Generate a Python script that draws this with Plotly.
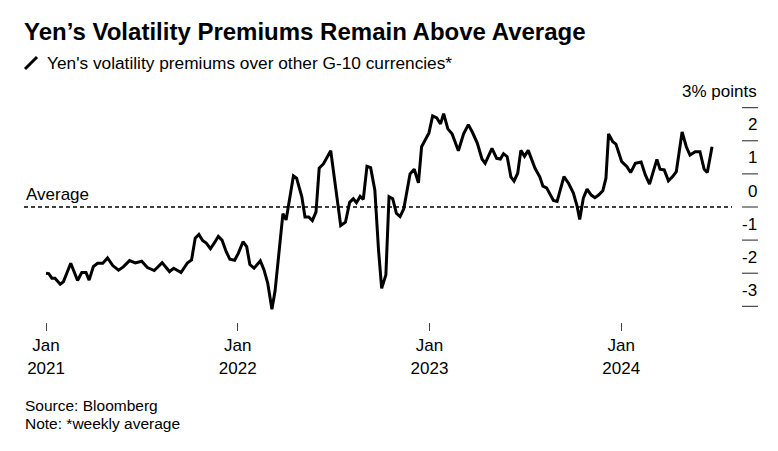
import plotly.graph_objects as go

# ---------------- data ----------------
dates = [
    "2021-01-01", "2021-01-06", "2021-01-12", "2021-01-18", "2021-01-28", "2021-02-03", "2021-02-17",
    "2021-03-02", "2021-03-10", "2021-03-18", "2021-03-24", "2021-04-01", "2021-04-09", "2021-04-19",
    "2021-04-28", "2021-05-08", "2021-05-19", "2021-05-28", "2021-06-09", "2021-06-20", "2021-07-02",
    "2021-07-13", "2021-07-26", "2021-08-10", "2021-08-24", "2021-09-01", "2021-09-15", "2021-09-27",
    "2021-10-05", "2021-10-12", "2021-10-19", "2021-10-26", "2021-11-02", "2021-11-10", "2021-11-18",
    "2021-11-25", "2021-12-02", "2021-12-10", "2021-12-17", "2021-12-26", "2022-01-02", "2022-01-11",
    "2022-01-18", "2022-01-24", "2022-02-01", "2022-02-13", "2022-02-20", "2022-02-27", "2022-03-07",
    "2022-03-13", "2022-03-28", "2022-04-03", "2022-04-17", "2022-04-23", "2022-05-03", "2022-05-09",
    "2022-05-16", "2022-05-23", "2022-05-30", "2022-06-05", "2022-06-13", "2022-06-27", "2022-07-07",
    "2022-07-16", "2022-07-25", "2022-08-02", "2022-08-09", "2022-08-15", "2022-08-22", "2022-08-28",
    "2022-09-04", "2022-09-11", "2022-09-19", "2022-09-26", "2022-10-02", "2022-10-10", "2022-10-16",
    "2022-10-23", "2022-10-30", "2022-11-06", "2022-11-13", "2022-11-25", "2022-12-03", "2022-12-11",
    "2022-12-17", "2022-12-24", "2022-12-31", "2023-01-07", "2023-01-15", "2023-01-22", "2023-01-28",
    "2023-02-05", "2023-02-13", "2023-02-25", "2023-03-07", "2023-03-16", "2023-03-24", "2023-04-02",
    "2023-04-11", "2023-04-17", "2023-04-30", "2023-05-09", "2023-05-16", "2023-05-22", "2023-05-29",
    "2023-06-05", "2023-06-11", "2023-06-18", "2023-06-24", "2023-07-01", "2023-07-08", "2023-07-21",
    "2023-07-30", "2023-08-05", "2023-08-12", "2023-08-25", "2023-09-01", "2023-09-14", "2023-09-23",
    "2023-10-02", "2023-10-09", "2023-10-14", "2023-10-21", "2023-10-28", "2023-11-05", "2023-11-12",
    "2023-11-19", "2023-11-27", "2023-12-03", "2023-12-08", "2023-12-16", "2023-12-22", "2024-01-02",
    "2024-01-12", "2024-01-19", "2024-01-28", "2024-02-08", "2024-02-16", "2024-02-24", "2024-03-09",
    "2024-03-15", "2024-03-23", "2024-03-31", "2024-04-08", "2024-04-15", "2024-04-26", "2024-05-04",
    "2024-05-11", "2024-05-21", "2024-05-30", "2024-06-07", "2024-06-13", "2024-06-22",
]
premium = [
    -2.00, -2.01, -2.15, -2.15, -2.33, -2.26, -1.70,
    -2.22, -1.98, -1.98, -2.21, -1.80, -1.70, -1.70,
    -1.54, -1.77, -1.91, -1.81, -1.62, -1.69, -1.64,
    -1.83, -1.92, -1.68, -1.95, -1.85, -1.98, -1.69,
    -1.60, -0.94, -0.83, -1.01, -1.09, -1.26, -1.07,
    -0.89, -1.00, -1.35, -1.58, -1.61, -1.40, -1.05,
    -1.20, -1.74, -1.85, -1.63, -1.90, -2.30, -3.09,
    -2.54, -0.20, -0.39, 0.94, 0.87, 0.31, -0.30,
    -0.30, -0.41, -0.15, 1.17, 1.30, 1.70, 0.51,
    -0.56, -0.46, 0.14, 0.25, 0.13, 0.32, 0.23,
    1.23, 1.19, 0.51, -1.30, -2.46, -2.05, 0.31,
    0.25, -0.19, -0.29, -0.06, 1.00, 1.14, 0.73,
    1.82, 2.02, 2.24, 2.75, 2.69, 2.51, 2.82,
    2.36, 2.21, 1.70, 2.21, 2.49, 2.25, 1.93,
    1.45, 1.32, 1.77, 1.47, 1.45, 1.61, 1.52,
    0.91, 0.78, 1.02, 1.71, 1.53, 1.71, 1.17,
    0.91, 0.63, 0.58, 0.20, 0.17, 0.92, 0.71,
    0.42, 0.03, -0.38, 0.27, 0.54, 0.36, 0.28,
    0.36, 0.49, 0.87, 2.21, 1.97, 1.90, 1.37,
    1.22, 1.04, 1.32, 1.36, 0.97, 0.69, 1.44,
    1.14, 1.12, 0.79, 0.92, 1.07, 2.27, 1.82,
    1.57, 1.67, 1.67, 1.14, 1.04, 1.82,
]
average_level = 0.0
y_tick_values = [-3, -2, -1, 0, 1, 2, 3]
y_tick_labels = ["-3", "-2", "-1", "0", "1", "2", "3% points"]
x_tick_values = ["2021-01-01", "2022-01-01", "2023-01-01", "2024-01-01"]
x_tick_labels = ["Jan<br>2021", "Jan<br>2022", "Jan<br>2023", "Jan<br>2024"]

title_text = "Yen’s Volatility Premiums Remain Above Average"
subtitle_text = "Yen's volatility premiums over other G-10 currencies*"
footer_lines = ["Source: Bloomberg", "Note: *weekly average"]

# ---------------- layout geometry (window pixel coordinates) ----------------
OFF = 8                      # the page body adds an 8px margin around the figure
WIN_W, WIN_H = 778, 451
WIDTH, HEIGHT = WIN_W - OFF, WIN_H - OFF
L, R, T, B = 24, 732, 100, 322
PW, PH = R - L, B - T
FONT = "Liberation Sans, Arial, Helvetica, sans-serif"


def px(x):
    return (x - L) / PW


def py(y):
    return (B - y) / PH


fig = go.Figure()
fig.add_trace(go.Scatter(
    x=dates, y=premium, mode="lines",
    line=dict(color="#000000", width=3),
    hoverinfo="skip", showlegend=False,
))

shapes = []
annotations = []

# average dashed line
shapes.append(dict(type="line", xref="paper", yref="y", x0=0, x1=1,
                   y0=average_level, y1=average_level,
                   line=dict(color="#000000", width=1.5, dash="4px,3px"), layer="below"))
annotations.append(dict(text="Average", xref="paper", yref="y", x=0, y=average_level,
                        xanchor="left", yanchor="bottom", yshift=1, showarrow=False,
                        font=dict(size=17, color="#000000", family=FONT)))

# right-hand value axis: tick marks and labels above them
for v, lab in zip(y_tick_values, y_tick_labels):
    shapes.append(dict(type="line", xref="paper", yref="y", x0=px(742), x1=px(758),
                       y0=v, y1=v, line=dict(color="#222222", width=1)))
    annotations.append(dict(text=lab, xref="paper", yref="y", x=px(759), y=v,
                            xanchor="right", yanchor="middle", yshift=16, showarrow=False,
                            font=dict(size=17, color="#000000", family=FONT)))

# title, subtitle with legend icon, footer
annotations.append(dict(text="<b>" + title_text + "</b>", xref="paper", yref="paper",
                        x=px(22), y=py(31), xanchor="left", yanchor="middle", showarrow=False,
                        font=dict(size=24, color="#000000", family=FONT)))
shapes.append(dict(type="line", xref="paper", yref="paper", x0=px(25), y0=py(69),
                   x1=px(37), y1=py(57), line=dict(color="#000000", width=3)))
annotations.append(dict(text=subtitle_text, xref="paper", yref="paper",
                        x=px(45), y=py(63), xanchor="left", yanchor="middle", showarrow=False,
                        font=dict(size=17.3, color="#000000", family=FONT)))
for i, line in enumerate(footer_lines):
    annotations.append(dict(text=line, xref="paper", yref="paper",
                            x=px(23), y=py(405 + 18 * i), xanchor="left", yanchor="middle",
                            showarrow=False,
                            font=dict(size=15.5, color="#000000", family=FONT)))

fig.update_layout(
    width=WIDTH, height=HEIGHT,
    margin=dict(l=L - OFF, r=WIN_W - R, t=T - OFF, b=WIN_H - B, pad=0),
    paper_bgcolor="#ffffff", plot_bgcolor="#ffffff",
    font=dict(family=FONT, color="#000000", size=17),
    shapes=shapes, annotations=annotations,
    xaxis=dict(
        type="date", range=["2020-11-20", "2024-07-30"],
        tickmode="array", tickvals=x_tick_values, ticktext=x_tick_labels,
        ticks="outside", ticklen=8, tickwidth=1, tickcolor="#444444",
        showgrid=False, zeroline=False, showline=False,
        tickfont=dict(size=17, color="#000000", family=FONT),
        fixedrange=True,
    ),
    yaxis=dict(
        range=[-3.4743, 3.2326], showgrid=False, zeroline=False, showline=False,
        showticklabels=False, ticks="", fixedrange=True,
    ),
)

fig.write_html("out.html", config={"displayModeBar": False})
